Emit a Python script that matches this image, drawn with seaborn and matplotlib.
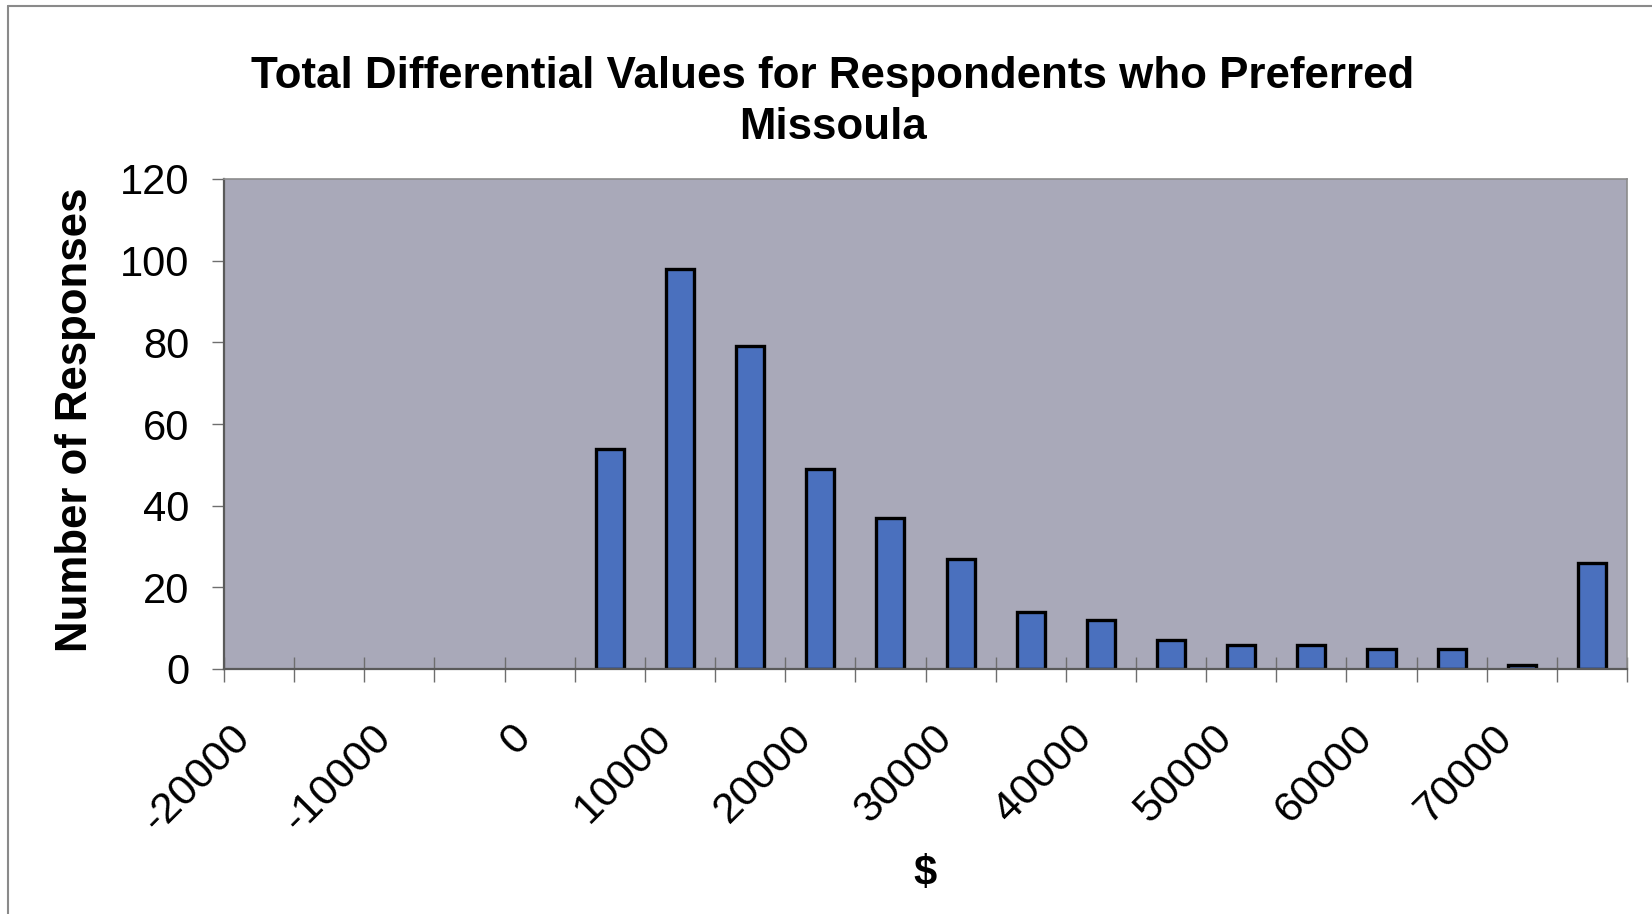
import matplotlib
matplotlib.use("Agg")
import matplotlib.pyplot as plt
from matplotlib.lines import Line2D
from matplotlib.transforms import ScaledTranslation
import seaborn as sns
import pandas as pd

# Histogram of total differential values ($), bins of 5000
bin_lower = [5000, 10000, 15000, 20000, 25000, 30000, 35000, 40000,
             45000, 50000, 55000, 60000, 65000, 70000, 75000]
responses = [54, 98, 79, 49, 37, 27, 14, 12, 7, 6, 6, 5, 5, 1, 26]

x_min, x_max, bin_width = -20000, 80000, 5000
x_tick_values = [-20000, -10000, 0, 10000, 20000, 30000, 40000, 50000, 60000, 70000]
x_tick_labels = [str(v) for v in x_tick_values]
y_tick_values = [0, 20, 40, 60, 80, 100, 120]

title_text = "Total Differential Values for Respondents who Preferred\nMissoula"
x_label = "$"
y_label = "Number of Responses"

sns.set_theme(style="white")
plt.rcParams["font.family"] = ["Liberation Sans", "DejaVu Sans"]
plt.rcParams["text.color"] = "black"
plt.rcParams["axes.labelcolor"] = "black"
plt.rcParams["xtick.labelcolor"] = "black"
plt.rcParams["ytick.labelcolor"] = "black"

W, H = 1652, 914
fig = plt.figure(figsize=(W / 100, H / 100), dpi=100)
fig.patch.set_facecolor("white")

ax_left, ax_right, ax_top, ax_bottom = 224, 1627, 179, 669
ax = fig.add_axes([ax_left / W, 1 - ax_bottom / H,
                   (ax_right - ax_left) / W, (ax_bottom - ax_top) / H])
ax.set_facecolor("#a9a9b9")

df = pd.DataFrame({"value": bin_lower, "count": responses})
sns.histplot(data=df, x="value", weights="count", binwidth=bin_width,
             binrange=(bin_lower[0], x_max), shrink=0.4,
             color="#4a70be", alpha=1, edgecolor="black", linewidth=2.4,
             ax=ax)

ax.set_xlim(x_min, x_max)
ax.set_ylim(0, 120)
ax.set_xlabel("")
ax.set_ylabel("")

# tick marks at every bin boundary, labels every other boundary
ax.set_xticks(x_tick_values)
ax.set_xticklabels(x_tick_labels)
ax.set_xticks(list(range(x_min, x_max + 1, bin_width)), minor=True)
ax.tick_params(axis="x", which="both", direction="inout", length=18,
               width=1.0, color="#6e6e6e", bottom=True)
ax.tick_params(axis="x", which="major", labelsize=31, pad=26,
               labelcolor="black")
offset = ScaledTranslation(6 / 100, 0, fig.dpi_scale_trans)
for lab in ax.get_xticklabels():
    lab.set_rotation(45)
    lab.set_ha("right")
    lab.set_va("top")
    lab.set_rotation_mode("anchor")
    lab.set_transform(lab.get_transform() + offset)

ax.set_yticks(y_tick_values)
ax.set_yticklabels([str(v) for v in y_tick_values])
ax.tick_params(axis="y", direction="out", length=9, width=1.0,
               color="#6e6e6e", left=True, labelsize=30, pad=16,
               labelcolor="black")

for side in ["left", "bottom"]:
    ax.spines[side].set_color("#5a5a5a")
    ax.spines[side].set_linewidth(1.6)
for side in ["top", "right"]:
    ax.spines[side].set_color("#8c8c8c")
    ax.spines[side].set_linewidth(1.2)

fig.text(833 / W, 1 - 102 / H, title_text, ha="center", va="center",
         fontsize=31.6, fontweight="bold", linespacing=1.33, color="black")
fig.text(76 / W, 1 - 420 / H, y_label, rotation=90, ha="center",
         va="center", fontsize=31.5, fontweight="bold", color="black")
fig.text(925 / W, 1 - 874 / H, x_label, ha="center", va="center",
         fontsize=30, fontweight="bold", color="black")

# chart-area frame (top and left edges)
fig.add_artist(Line2D([8 / W, 1.0], [1 - 6 / H, 1 - 6 / H],
                      transform=fig.transFigure, color="#8a8a8a", lw=1.5))
fig.add_artist(Line2D([8 / W, 8 / W], [0.0, 1 - 6 / H],
                      transform=fig.transFigure, color="#8a8a8a", lw=1.5))

fig.savefig("out.png", dpi=100, facecolor="white")
